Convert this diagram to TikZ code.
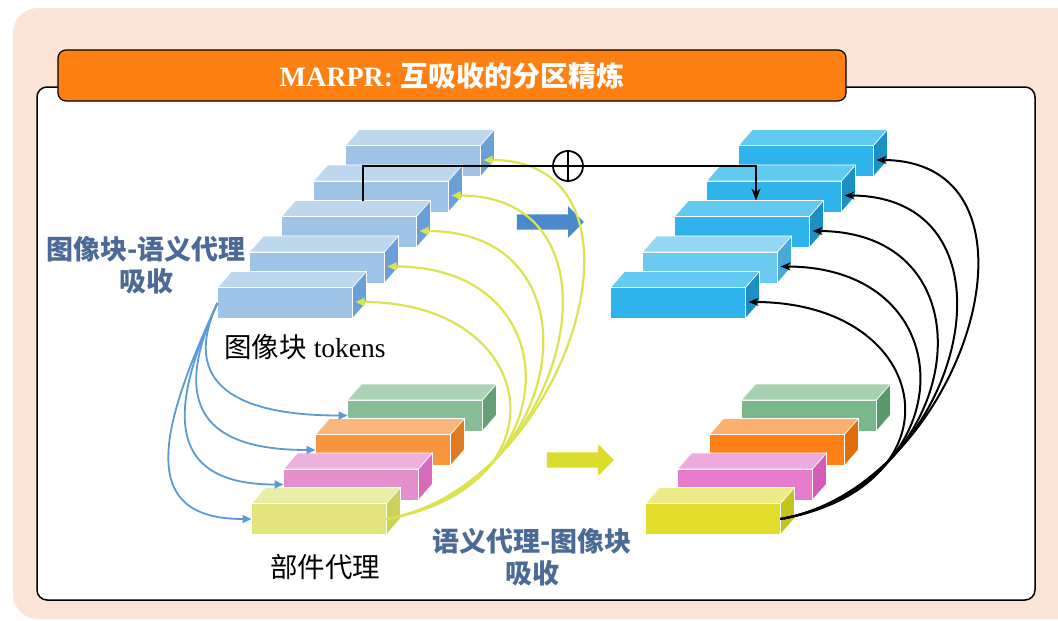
\documentclass[tikz,border=0pt]{standalone}
\usepackage{fontspec}
\setmainfont{Liberation Serif}
\newfontfamily\cjk{Noto Sans CJK SC}
\usetikzlibrary{arrows.meta, positioning, calc, shapes.arrows}

\definecolor{peach}{HTML}{FBE4D5}
\definecolor{titleorange}{HTML}{FF8012}
\definecolor{labelblue}{HTML}{4C6A96}
\definecolor{spreadblue}{HTML}{5B9BD5}
\definecolor{feedyellow}{HTML}{DCE350}
\definecolor{arrowblue}{HTML}{4A89CC}
\definecolor{arrowyellow}{HTML}{DADC2E}
% patch tokens (front / top / side)
\definecolor{patchF}{HTML}{9DC3E6}
\definecolor{patchT}{HTML}{BDD7EE}
\definecolor{patchS}{HTML}{6A9FD8}
\definecolor{refF}{HTML}{2EB4EA}
\definecolor{refT}{HTML}{62C9F1}
\definecolor{refS}{HTML}{1C90C4}
\definecolor{refLF}{HTML}{6CC9F0}
\definecolor{refLT}{HTML}{92D8F5}
\definecolor{refLS}{HTML}{47A9D8}
% part proxies, left (pale) and right (strong)
\definecolor{lgF}{HTML}{86BD97}\definecolor{lgT}{HTML}{ABD4B6}\definecolor{lgS}{HTML}{64A076}
\definecolor{loF}{HTML}{F7963F}\definecolor{loT}{HTML}{F9B67D}\definecolor{loS}{HTML}{E07B24}
\definecolor{lpF}{HTML}{E48FCC}\definecolor{lpT}{HTML}{ECB2DD}\definecolor{lpS}{HTML}{D96BBD}
\definecolor{lyF}{HTML}{E2E47E}\definecolor{lyT}{HTML}{EAEDA6}\definecolor{lyS}{HTML}{CDD15A}
\definecolor{rgF}{HTML}{77B78A}\definecolor{rgT}{HTML}{A5D1B0}\definecolor{rgS}{HTML}{579A6A}
\definecolor{roF}{HTML}{FF8014}\definecolor{roT}{HTML}{FDAF6D}\definecolor{roS}{HTML}{E06E0A}
\definecolor{rpF}{HTML}{E67BCB}\definecolor{rpT}{HTML}{EEAADF}\definecolor{rpS}{HTML}{D35CB8}
\definecolor{ryF}{HTML}{E1DD2A}\definecolor{ryT}{HTML}{EDEA88}\definecolor{ryS}{HTML}{C6C41C}

% token block: name, centre of front face, front, top, side
\newcommand{\tokbox}[5]{%
  \node[tokface, fill=#3] (#1) at (#2) {};
  \filldraw[fill=#4, draw=white, line width=0.6pt] (#1.north west) -- ++(14,16) -- ++(135,0) -- (#1.north east) -- cycle;
  \filldraw[fill=#5, draw=white, line width=0.6pt] (#1.north east) -- ++(14,16) -- ++(0,-31) -- (#1.south east) -- cycle;
}

\begin{document}
\begin{tikzpicture}[x=1pt, y=1pt,
    tokface/.style = {rectangle, minimum width=135, minimum height=31, inner sep=0, outer sep=0, draw=white, line width=0.6pt},
    titlebar/.style = {rectangle, draw, line width=1.2pt, rounded corners=8, fill=titleorange, minimum width=788, minimum height=51, text=white},
    lbl/.style = {align=center, inner sep=0, text=labelblue, font=\cjk\bfseries\fontsize{27}{32}\selectfont},
    caption/.style = {inner sep=0, font=\fontsize{27.5}{30}\selectfont},
    blockarrow/.style = {single arrow, minimum height=67, single arrow head extend=8, inner xsep=0, inner ysep=7.5pt, outer sep=0},
    plusnode/.style = {circle, draw, line width=1.8pt, fill=white, minimum size=30, inner sep=0,
        path picture={\draw[line width=1.8pt] (path picture bounding box.north) -- (path picture bounding box.south)
                      (path picture bounding box.west) -- (path picture bounding box.east);}},
    spread/.style = {spreadblue, line width=1.8pt, -{Triangle[length=9pt, width=8pt]}},
    feedY/.style = {feedyellow, line width=2.2pt, -{Triangle[length=9pt, width=8pt]}},
    feedK/.style = {black, line width=2pt, -{Stealth[length=10pt, width=8pt]}},
    fuse/.style = {black, line width=2pt},
    >=Stealth]

    \useasboundingbox (0,0) rectangle (1058,-621);
    \fill[peach, rounded corners=25] (13,-8) rectangle (1085,-619);
    \draw[line width=1.5pt, fill=white, rounded corners=10] (37,-87) rectangle (1035,-600);
    \node[titlebar] (title) at (452,-75.5) {\bfseries\fontsize{28}{32}\selectfont MARPR: {\cjk 互吸收的分区精炼}};

    % patch tokens and refined tokens
    \foreach \i in {5,...,1} {
        \tokbox{L\i}{{253+32*\i},{-338.5+35.5*\i}}{patchF}{patchT}{patchS}
    }
    \foreach \i/\fr/\tp/\sd in {5/refF/refT/refS, 4/refF/refT/refS, 3/refF/refT/refS, 2/refLF/refLT/refLS, 1/refF/refT/refS} {
        \tokbox{R\i}{{646+32*\i},{-338.5+35.5*\i}}{\fr}{\tp}{\sd}
    }

    % part proxies
    \foreach \k/\n/\fr/\tp/\sd in {4/G/lgF/lgT/lgS, 3/O/loF/loT/loS, 2/P/lpF/lpT/lpS, 1/Y/lyF/lyT/lyS} {
        \tokbox{L\n}{{287+32*\k},{-553.5+34.5*\k}}{\fr}{\tp}{\sd}
    }
    \foreach \k/\n/\fr/\tp/\sd in {4/G/rgF/rgT/rgS, 3/O/roF/roT/roS, 2/P/rpF/rpT/rpS, 1/Y/ryF/ryT/ryS} {
        \tokbox{R\n}{{681+32*\k},{-553.5+34.5*\k}}{\fr}{\tp}{\sd}
    }

    \node[blockarrow, fill=arrowblue] (toRef) at (546.5,-222) {};
    \node[blockarrow, fill=arrowyellow] (toPart) at (576.5,-460) {};

    \node[lbl] (absorbPS) at (146,-265) {图像块-语义代理\\吸收};
    \node[lbl] (absorbSP) at (532,-557) {语义代理-图像块\\吸收};
    \node[caption, below=16pt of L1, xshift=20pt] (patchCap) {{\cjk 图像块} tokens};
    \node[caption, below=20pt of LY, xshift=6pt] (partCap) {\cjk 部件代理};

    % patch -> part
    \foreach \t/\d in {G/90, O/115, P/130, Y/150}
        \draw[spread] (L1.west) .. controls +(245:\d) and +(180:110) .. (L\t.west);
    % part -> patch
    \foreach \i in {1,...,5} {
        \draw[feedY] (LY.east) .. controls +(10:185) and +(0:185) .. ($(L\i.east)+(3,1)$);
        \draw[feedK] (RY.east) .. controls +(10:187) and +(0:187) .. ($(R\i.east)+(3,1)$);
    }

    \node[plusnode] (plus) at (568,-166) {};
    \coordinate (srcTop) at ($(L3.north)+(14,16)$);
    \coordinate (dstTop) at ($(R3.north)+(14,16)$);
    \draw[fuse] (srcTop) |- (plus);
    \draw[fuse, ->] (plus) -| (dstTop);
\end{tikzpicture}
\end{document}
